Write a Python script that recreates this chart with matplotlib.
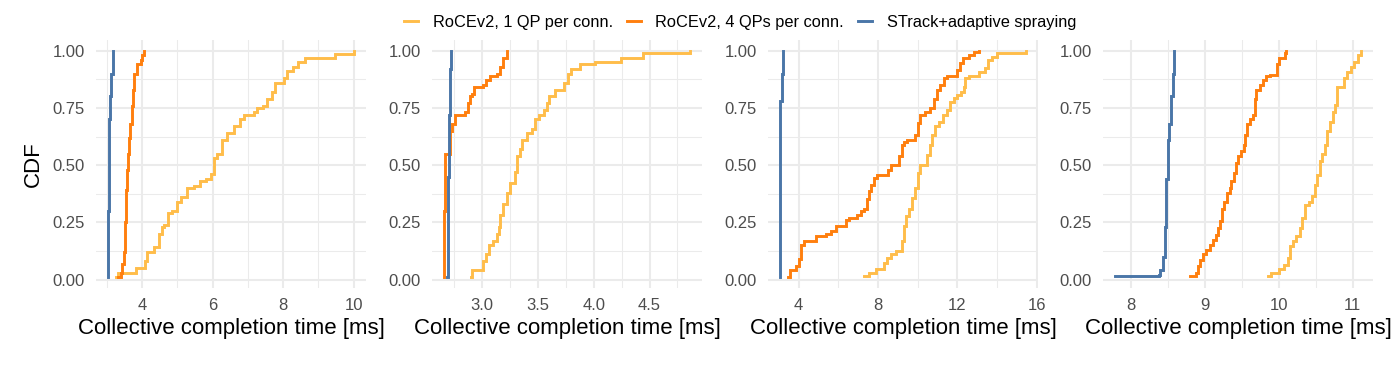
import matplotlib.pyplot as plt
from matplotlib.ticker import MultipleLocator, FormatStrFormatter
from matplotlib.lines import Line2D

plt.rcParams['font.family'] = ['Liberation Sans', 'DejaVu Sans']

series_names = ["RoCEv2, 1 QP per conn.", "RoCEv2, 4 QPs per conn.", "STrack+adaptive spraying"]
series_colors = ["#FFBD4A", "#FF7F0E", "#4A76A8"]

# ECDF breakpoints (time in ms, cumulative fraction), one panel per scenario
p1_1qp_x = [3.26, 3.33, 3.82, 4.08, 4.15, 4.34, 4.48, 4.55, 4.62, 4.72, 4.86, 5.00, 5.09, 5.28, 5.47, 5.65,
            5.80, 5.94, 6.03, 6.13, 6.27, 6.41, 6.60, 6.78, 6.88, 7.16, 7.25, 7.44, 7.54, 7.68, 7.77, 8.02,
            8.10, 8.29, 8.43, 8.62, 9.46, 10.0]
p1_1qp_y = [0.012, 0.03, 0.05, 0.08, 0.12, 0.14, 0.20, 0.23, 0.24, 0.29, 0.30, 0.34, 0.36, 0.40, 0.41, 0.43,
            0.44, 0.46, 0.53, 0.55, 0.61, 0.64, 0.67, 0.70, 0.72, 0.73, 0.75, 0.76, 0.79, 0.82, 0.86, 0.88,
            0.91, 0.93, 0.95, 0.97, 0.985, 1.0]
p1_4qp_x = [3.32, 3.40, 3.44, 3.49, 3.51, 3.54, 3.58, 3.61, 3.64, 3.66, 3.70, 3.73, 3.77, 3.85, 3.96, 4.00, 4.04]
p1_4qp_y = [0.012, 0.03, 0.07, 0.12, 0.25, 0.39, 0.48, 0.55, 0.62, 0.68, 0.76, 0.83, 0.90, 0.94, 0.96, 0.98, 1.0]
p1_st_x = [3.04, 3.045, 3.05, 3.07, 3.09, 3.13, 3.17]
p1_st_y = [0.012, 0.3, 0.6, 0.7, 0.8, 0.9, 1.0]

p2_1qp_x = [2.90, 2.91, 3.01, 3.03, 3.06, 3.10, 3.13, 3.15, 3.16, 3.19, 3.22, 3.25, 3.29, 3.31, 3.34, 3.36,
            3.40, 3.45, 3.47, 3.51, 3.55, 3.58, 3.60, 3.65, 3.73, 3.77, 3.80, 3.88, 4.01, 4.24, 4.44, 4.86]
p2_1qp_y = [0.012, 0.04, 0.08, 0.11, 0.15, 0.17, 0.20, 0.23, 0.28, 0.33, 0.38, 0.42, 0.47, 0.54, 0.57, 0.61,
            0.64, 0.66, 0.70, 0.72, 0.74, 0.77, 0.80, 0.83, 0.86, 0.90, 0.92, 0.94, 0.95, 0.97, 0.99, 1.0]
p2_4qp_x = [2.66, 2.662, 2.665, 2.67, 2.71, 2.73, 2.76, 2.85, 2.87, 2.89, 2.91, 2.93, 3.01, 3.03, 3.07, 3.13,
            3.16, 3.19, 3.22]
p2_4qp_y = [0.012, 0.3, 0.52, 0.55, 0.65, 0.68, 0.72, 0.73, 0.77, 0.80, 0.81, 0.84, 0.85, 0.87, 0.89, 0.90,
            0.93, 0.97, 1.0]
p2_st_x = [2.6875, 2.69, 2.695, 2.70, 2.705, 2.71, 2.715, 2.717]
p2_st_y = [0.012, 0.2, 0.45, 0.61, 0.72, 0.83, 0.92, 1.0]

p3_1qp_x = [7.30, 7.55, 7.88, 8.30, 8.47, 8.64, 8.89, 9.22, 9.31, 9.44, 9.56, 9.72, 9.89, 10.01, 10.11,
            10.48, 10.61, 10.73, 10.90, 11.06, 11.28, 11.48, 11.65, 11.82, 11.98, 12.18, 12.32, 12.40,
            12.57, 13.07, 13.40, 13.57, 13.74, 13.99, 15.45]
p3_1qp_y = [0.015, 0.03, 0.048, 0.073, 0.094, 0.11, 0.124, 0.167, 0.233, 0.276, 0.31, 0.356, 0.40, 0.465,
            0.50, 0.545, 0.59, 0.632, 0.669, 0.69, 0.72, 0.741, 0.778, 0.795, 0.807, 0.82, 0.843, 0.88,
            0.89, 0.908, 0.923, 0.96, 0.974, 0.99, 1.0]
p3_4qp_x = [3.48, 3.58, 3.87, 4.00, 4.12, 4.28, 4.87, 5.37, 5.62, 5.87, 6.38, 6.54, 6.96, 7.13, 7.30, 7.43,
            7.55, 7.67, 7.80, 7.97, 8.50, 8.64, 9.05, 9.22, 9.31, 9.47, 9.89, 10.01, 10.14, 10.39, 10.64,
            10.81, 10.98, 11.15, 11.31, 11.48, 11.98, 12.12, 12.28, 12.57, 12.82, 13.12]
p3_4qp_y = [0.012, 0.04, 0.06, 0.09, 0.15, 0.17, 0.19, 0.20, 0.21, 0.233, 0.26, 0.27, 0.283, 0.30, 0.31,
            0.35, 0.385, 0.414, 0.443, 0.455, 0.48, 0.50, 0.54, 0.59, 0.60, 0.61, 0.632, 0.683, 0.717, 0.734,
            0.75, 0.79, 0.83, 0.85, 0.88, 0.89, 0.916, 0.945, 0.967, 0.98, 0.996, 1.0]
p3_st_x = [3.08, 3.085, 3.15, 3.21]
p3_st_y = [0.012, 0.78, 0.9, 1.0]

p4_1qp_x = [9.85, 9.89, 10.01, 10.07, 10.12, 10.16, 10.20, 10.24, 10.29, 10.32, 10.36, 10.41, 10.45, 10.49,
            10.52, 10.56, 10.59, 10.62, 10.66, 10.69, 10.73, 10.76, 10.79, 10.89, 10.93, 10.98, 11.02,
            11.07, 11.11]
p4_1qp_y = [0.015, 0.03, 0.044, 0.065, 0.094, 0.145, 0.167, 0.19, 0.225, 0.27, 0.327, 0.34, 0.363, 0.414,
            0.458, 0.516, 0.55, 0.59, 0.647, 0.69, 0.734, 0.763, 0.843, 0.88, 0.908, 0.93, 0.952,
            0.98, 1.0]
p4_4qp_x = [8.80, 8.88, 8.91, 8.94, 8.98, 9.02, 9.07, 9.11, 9.15, 9.18, 9.20, 9.24, 9.26, 9.30, 9.34, 9.36,
            9.39, 9.42, 9.45, 9.49, 9.53, 9.55, 9.57, 9.61, 9.65, 9.68, 9.70, 9.75, 9.79, 9.83, 9.88,
            9.98, 10.01, 10.08, 10.10]
p4_4qp_y = [0.015, 0.03, 0.058, 0.087, 0.11, 0.13, 0.153, 0.174, 0.196, 0.225, 0.254, 0.31, 0.34, 0.378,
            0.40, 0.43, 0.465, 0.51, 0.54, 0.56, 0.59, 0.63, 0.68, 0.70, 0.72, 0.79, 0.83, 0.85, 0.87,
            0.89, 0.894, 0.94, 0.967, 0.99, 1.0]
p4_st_x = [7.79, 8.38, 8.40, 8.43, 8.46, 8.48, 8.50, 8.52, 8.55, 8.57, 8.59]
p4_st_y = [0.015, 0.02, 0.04, 0.10, 0.23, 0.44, 0.61, 0.68, 0.80, 0.90, 1.0]

panels = [
    [(p1_1qp_x, p1_1qp_y), (p1_4qp_x, p1_4qp_y), (p1_st_x, p1_st_y)],
    [(p2_1qp_x, p2_1qp_y), (p2_4qp_x, p2_4qp_y), (p2_st_x, p2_st_y)],
    [(p3_1qp_x, p3_1qp_y), (p3_4qp_x, p3_4qp_y), (p3_st_x, p3_st_y)],
    [(p4_1qp_x, p4_1qp_y), (p4_4qp_x, p4_4qp_y), (p4_st_x, p4_st_y)],
]
x_major = [2, 0.5, 4, 1]
x_fmt = ['%g', '%.1f', '%g', '%g']

W, H = 1400, 367
fig = plt.figure(figsize=(W / 100, H / 100), dpi=100)
lefts = [96, 432, 768, 1103]
for i, curves in enumerate(panels):
    ax = fig.add_axes([lefts[i] / W, (H - 288) / H, 270 / W, 248.5 / H])
    for (xs, ys), col in zip(curves, series_colors):
        ax.step(xs, ys, where='post', color=col, lw=2.1, solid_joinstyle='miter')
    ax.set_ylim(-0.037, 1.049)
    ax.margins(x=0.05)
    ax.xaxis.set_major_locator(MultipleLocator(x_major[i]))
    ax.xaxis.set_minor_locator(MultipleLocator(x_major[i] / 2))
    ax.xaxis.set_major_formatter(FormatStrFormatter(x_fmt[i]))
    ax.yaxis.set_major_locator(MultipleLocator(0.25))
    ax.yaxis.set_minor_locator(MultipleLocator(0.125))
    ax.yaxis.set_major_formatter(FormatStrFormatter('%.2f'))
    ax.grid(which='major', color='#EBEBEB', lw=1.5)
    ax.grid(which='minor', color='#EBEBEB', lw=0.75)
    ax.set_axisbelow(True)
    for s in ax.spines.values():
        s.set_visible(False)
    ax.tick_params(which='both', length=0, labelsize=12, labelcolor='#4D4D4D')
    ax.tick_params(axis='y', pad=8)
    ax.tick_params(axis='x', pad=7)
    ax.set_xlabel("Collective completion time [ms]", fontsize=16, labelpad=4)
    if i == 0:
        ax.set_ylabel("CDF", fontsize=16, labelpad=6)

handles = [Line2D([], [], color=c, lw=2.1) for c in series_colors]
fig.legend(handles, series_names, loc='center', bbox_to_anchor=(740 / W, 1 - 22 / H), ncol=3,
           frameon=False, fontsize=11.8, handlelength=0.85, handletextpad=0.9, columnspacing=0.85)

fig.savefig("out.png", dpi=100)
